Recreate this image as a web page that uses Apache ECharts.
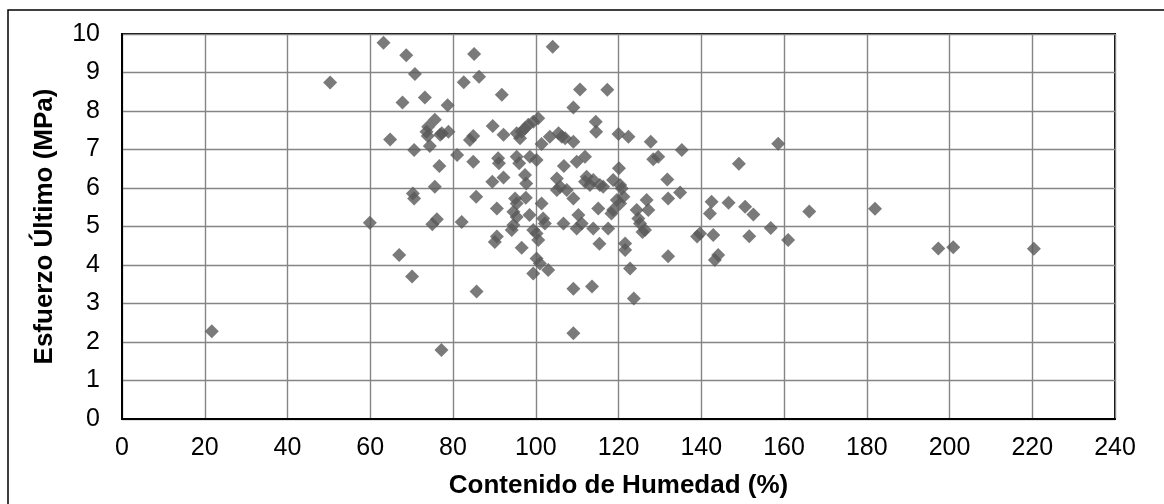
<!DOCTYPE html>
<html>
<head>
<meta charset="utf-8">
<script src="https://cdn.jsdelivr.net/npm/echarts@6/dist/echarts.min.js"></script>
<style>
html,body{margin:0;padding:0;background:#fff;}
#chart{width:1164px;height:504px;}
</style>
</head>
<body>
<div id="chart"></div>
<script>
// Contenido de Humedad (%)
const humedad = [
  21.7, 50.3, 59.9, 63.2, 64.8, 67.0, 67.8, 68.7, 70.1, 70.6,
  70.3, 70.6, 70.8, 73.2, 74.0, 73.9, 74.4, 75.6, 73.6, 75.6,
  76.7, 76.1, 75.0, 77.2, 77.3, 78.9, 76.9, 78.7, 81.0, 82.1,
  82.6, 84.1, 84.9, 84.9, 85.1, 85.6, 85.7, 86.3, 89.5, 89.6,
  90.6, 90.9, 91.1, 90.6, 90.1, 91.8, 92.2, 92.2, 94.6, 94.2,
  94.6, 95.4, 95.0, 95.4, 95.4, 96.0, 95.4, 96.6, 96.2, 97.4,
  98.2, 99.4, 100.6, 96.6, 97.4, 97.7, 97.6, 98.5, 98.6, 99.4,
  100.2, 100.6, 100.2, 100.2, 101.0, 99.4, 103.0, 101.4, 101.8, 102.2,
  101.4, 103.4, 104.1, 105.5, 106.3, 107.1, 109.1, 105.1, 105.9, 107.5,
  106.7, 106.8, 109.1, 109.1, 109.9, 111.9, 110.3, 109.9, 111.1, 110.7,
  109.1, 109.1, 111.9, 113.1, 113.9, 112.3, 115.5, 113.6, 113.9, 114.5,
  114.6, 115.1, 115.4, 116.3, 117.3, 117.5, 118.3, 118.7, 118.7, 119.6,
  120.4, 120.4, 121.2, 120.1, 120.0, 122.4, 121.6, 121.6, 122.8, 123.7,
  124.4, 124.8, 125.2, 125.8, 126.4, 126.8, 127.2, 127.8, 128.4, 129.6,
  131.8, 132.0, 132.0, 134.9, 135.3, 139.0, 139.7, 142.9, 143.3, 144.1,
  142.5, 142.1, 146.6, 149.1, 150.6, 152.6, 151.6, 156.8, 158.6, 161.0,
  166.1, 182.0, 197.3, 200.9, 220.4, 120.8, 105.1
];
// Esfuerzo Último (MPa)
const esfuerzo = [
  2.28, 8.74, 5.10, 9.77, 7.26, 4.26, 8.22, 9.45, 3.70, 6.99,
  5.86, 5.73, 8.96, 8.35, 7.59, 7.35, 7.09, 7.77, 7.46, 6.03,
  6.57, 5.19, 5.06, 1.79, 7.42, 7.46, 7.38, 8.15, 6.86, 5.12,
  8.75, 7.25, 7.35, 6.68, 9.48, 5.77, 3.31, 8.89, 6.16, 7.61,
  5.47, 6.77, 6.64, 4.74, 4.60, 8.42, 7.38, 6.27, 5.04, 4.91,
  5.38, 5.25, 5.73, 5.60, 6.81, 6.64, 7.42, 7.46, 7.29, 7.55,
  7.64, 7.72, 7.81, 4.45, 6.34, 6.12, 5.75, 5.30, 6.81, 4.91,
  4.82, 4.65, 6.73, 4.17, 4.04, 3.78, 3.87, 5.60, 5.21, 5.08,
  7.14, 7.33, 9.67, 7.42, 7.33, 7.29, 7.20, 6.25, 6.03, 5.95,
  5.08, 6.57, 5.73, 8.09, 6.68, 6.81, 5.30, 4.95, 5.08, 8.56,
  3.38, 2.23, 6.16, 6.08, 6.21, 6.29, 6.08, 3.44, 4.95, 7.72,
  7.46, 5.47, 4.55, 6.03, 8.55, 4.95, 5.34, 5.43, 6.21, 5.69,
  6.08, 5.60, 5.77, 6.51, 7.40, 7.33, 4.56, 4.39, 3.91, 3.13,
  5.43, 5.21, 5.08, 4.86, 4.91, 5.69, 5.43, 7.20, 6.75, 6.81,
  6.22, 5.73, 4.23, 5.88, 6.99, 4.74, 4.82, 4.78, 4.13, 4.26,
  5.64, 5.34, 5.62, 6.63, 5.51, 5.31, 4.75, 4.96, 7.15, 4.65,
  5.39, 5.46, 4.43, 4.46, 4.42, 5.99, 5.95
];
const xTitle = 'Contenido de Humedad (%)';
const yTitle = 'Esfuerzo Último (MPa)';

const points = humedad.map((x, i) => [x, esfuerzo[i]]);

const chart = echarts.init(document.getElementById('chart'), null, {renderer: 'canvas'});
const font = '"Liberation Sans", Arial, sans-serif';
chart.setOption({
  animation: false,
  backgroundColor: '#fff',
  graphic: [{
    type: 'rect',
    shape: {x: 8, y: 10, width: 1200, height: 600},
    style: {fill: 'none', stroke: '#000', lineWidth: 1.5},
    silent: true
  }],
  grid: {
    left: 122, top: 34, right: 49, bottom: 85,
    show: true, borderColor: '#000', borderWidth: 2, backgroundColor: 'transparent'
  },
  xAxis: {
    type: 'value', min: 0, max: 240, interval: 20,
    name: xTitle, nameLocation: 'middle', nameGap: 54,
    nameTextStyle: {fontFamily: font, fontSize: 26, fontWeight: 'bold', color: '#000'},
    axisLine: {show: true, lineStyle: {color: '#000', width: 2}},
    axisTick: {show: false},
    axisLabel: {fontFamily: font, fontSize: 25, color: '#000', margin: 17},
    splitLine: {show: true, lineStyle: {color: '#858585', width: 1.4}}
  },
  yAxis: {
    type: 'value', min: 0, max: 10, interval: 1,
    name: yTitle, nameLocation: 'middle', nameGap: 64,
    nameTextStyle: {fontFamily: font, fontSize: 26, fontWeight: 'bold', color: '#000'},
    axisLine: {show: true, lineStyle: {color: '#000', width: 2}},
    axisTick: {show: false},
    axisLabel: {fontFamily: font, fontSize: 25, color: '#000', margin: 22},
    splitLine: {show: true, lineStyle: {color: '#858585', width: 1.4}}
  },
  series: [{
    type: 'scatter',
    symbol: 'diamond',
    symbolSize: 14,
    itemStyle: {color: '#595959'},
    data: points
  }]
});
</script>
</body>
</html>
